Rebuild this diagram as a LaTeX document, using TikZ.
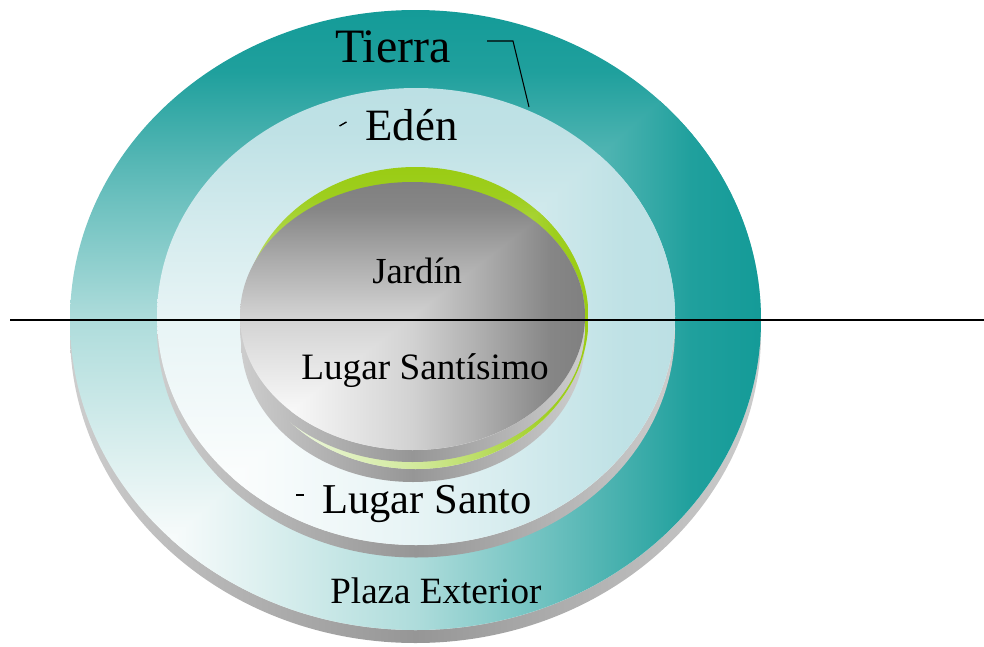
\documentclass[tikz,border=0pt]{standalone}
\usepackage{fontspec}
\setmainfont{Liberation Serif}
\definecolor{tealdeep}{RGB}{20,155,152}
\definecolor{tealpale}{RGB}{247,251,251}
\definecolor{cyanlite}{RGB}{188,224,228}
\definecolor{cyanpale}{RGB}{251,253,253}
\definecolor{sidelight}{RGB}{205,205,205}
\definecolor{sidedark}{RGB}{150,150,150}
\definecolor{greylo}{RGB}{128,128,128}
\definecolor{greyhi}{RGB}{248,248,248}
\definecolor{leafgreen}{RGB}{154,204,20}
\definecolor{leafpale}{RGB}{236,247,220}
\tikzset{
  discside/.style={left color=sidelight, right color=sidelight, middle color=sidedark},
  ringtext/.style={anchor=base west, inner sep=0pt, text=black},
  tickmark/.style={draw=black, line width=0.8pt}
}
% shadings for a disc face lit from its lower left corner
% #1 name  #2 far colour  #3 corner colour
\newcommand{\declareface}[3]{%
  \colorlet{#1stopb}{#2!32!#3}%
  \colorlet{#1stopc}{#2!62!#3}%
  \colorlet{#1stopd}{#2!95!#3}%
  \pgfdeclareverticalshading{#1up}{100bp}{color(0bp)=(#3); color(32.5bp)=(#3);
    color(50bp)=(#1stopb); color(60bp)=(#1stopc); color(70bp)=(#1stopd);
    color(75bp)=(#2); color(100bp)=(#2)}%
  \pgfdeclarehorizontalshading{#1across}{100bp}{color(0bp)=(#3); color(32.5bp)=(#3);
    color(50bp)=(#1stopb); color(60bp)=(#1stopc); color(70bp)=(#1stopd);
    color(75bp)=(#2); color(100bp)=(#2)}}
\declareface{tierra}{tealdeep}{tealpale}
\declareface{eden}{cyanlite}{cyanpale}
\declareface{garden}{leafgreen}{leafpale}
\declareface{holy}{greylo}{greyhi}
% #1,#2 centre  #3,#4 radii  #5 face name
\newcommand{\discface}[5]{%
  \begin{scope}
    \clip (#1,#2) ellipse [x radius=#3, y radius=#4];
    \shade[shading=#5up] (#1-#3,#2-#4) rectangle (#1+#3,#2+#4);
    \clip (#1-#3,#2-#4) -- (#1+#3,#2+#4) -- (#1+#3,#2-#4) -- cycle;
    \shade[shading=#5across] (#1-#3,#2-#4) rectangle (#1+#3,#2+#4);
  \end{scope}}
\begin{document}
\begin{tikzpicture}[x=0.02cm,y=0.02cm]
  \useasboundingbox (0,0) rectangle (984,-646);

  % outer ring
  \shade[discside] (415.5,-333) ellipse [x radius=345.5, y radius=310];
  \discface{415.5}{-320}{345.5}{310}{tierra}

  % middle ring
  \shade[discside] (416,-329) ellipse [x radius=259, y radius=228.5];
  \discface{416}{-316.5}{259}{228.5}{eden}

  % inner disc
  \shade[discside] (413,-340) ellipse [x radius=172, y radius=142];
  \discface{415.5}{-318}{173}{151}{garden}
  \shade[discside] (412.5,-328) ellipse [x radius=172.5, y radius=134];
  \discface{412.5}{-316}{172.5}{134}{holy}

  % divider
  \coordinate (divL) at (10,-320);
  \coordinate (divR) at (984,-320);
  \draw[line width=0.9pt] (divL) -- (divR);

  % labels
  \node[ringtext, font=\fontsize{27.3}{30}\selectfont] (tierra) at (335,-62) {Tierra};
  \node[ringtext, font=\fontsize{25.5}{28}\selectfont] (eden) at (365,-140) {Edén};
  \node[ringtext, font=\fontsize{20.9}{24}\selectfont] (jardin) at (372,-283) {Jardín};
  \node[ringtext, font=\fontsize{21.2}{24}\selectfont] (santisimo) at (301,-379) {Lugar Santísimo};
  \node[ringtext, font=\fontsize{24.2}{27}\selectfont] (santo) at (322,-513) {Lugar Santo};
  \node[ringtext, font=\fontsize{21.1}{24}\selectfont] (plaza) at (330,-603) {Plaza Exterior};

  % callout marks
  \coordinate (tierraA) at (487,-41);
  \coordinate (tierraB) at (513,-41);
  \coordinate (tierraC) at (529,-107);
  \draw[line width=0.6pt] (tierraA) -- (tierraB) -- (tierraC);
  \coordinate (edenA) at (339.5,-126);
  \coordinate (edenB) at (346.5,-122);
  \draw[tickmark] (edenA) -- (edenB);
  \coordinate (santoA) at (296,-495);
  \coordinate (santoB) at (304,-495);
  \draw[tickmark] (santoA) -- (santoB);
\end{tikzpicture}
\end{document}
